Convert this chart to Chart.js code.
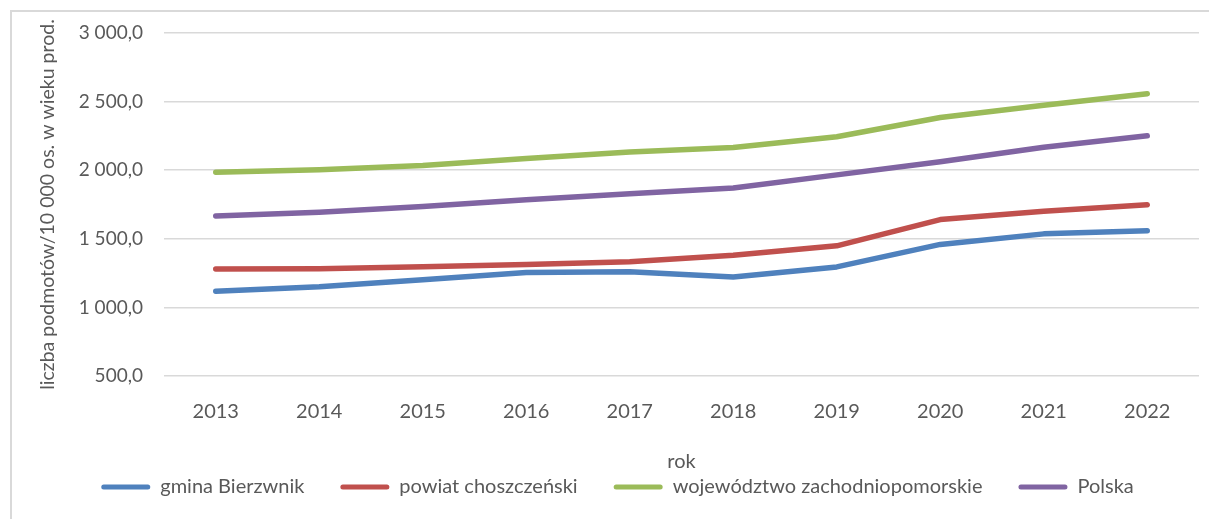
<!DOCTYPE html>
<html>
<head>
<meta charset="utf-8">
<script src="https://cdn.jsdelivr.net/npm/chart.js@4"></script>
<style>
  html, body { margin: 0; padding: 0; background: #ffffff; overflow: hidden; }
  #frame { position: absolute; left: 10px; top: 10px; width: 1400px; height: 700px; border: 2px solid #d9d9d9; box-sizing: border-box; }
  #wrap { position: absolute; left: 0; top: 0; width: 1209px; height: 519px; }
</style>
</head>
<body>
<div id="frame"></div>
<div id="wrap"><canvas id="c" width="1209" height="519"></canvas></div>
<script>
const years = ['2013', '2014', '2015', '2016', '2017', '2018', '2019', '2020', '2021', '2022'];
const seriesNames = ['gmina Bierzwnik', 'powiat choszczeński', 'województwo zachodniopomorskie', 'Polska'];
const gmina = [1118, 1150, 1202, 1255, 1260, 1222, 1295, 1459, 1536, 1558];
const powiat = [1280, 1282, 1296, 1312, 1333, 1380, 1449, 1640, 1700, 1749];
const wojewodztwo = [1985, 2003, 2035, 2085, 2132, 2165, 2244, 2384, 2473, 2558];
const polska = [1667, 1693, 1735, 1785, 1828, 1870, 1966, 2062, 2167, 2251];
const seriesColors = ['#4F81BD', '#C0504D', '#9BBB59', '#8064A2'];
const yTitle = 'liczba podmotów/10 000 os. w wieku prod.';
const xTitle = 'rok';

function fmt(v) {
  const s = v.toFixed(1).replace('.', ',');
  const parts = s.split(',');
  const intPart = parts[0].replace(/\B(?=(\d{3})+(?!\d))/g, ' ');
  return intPart + ',' + parts[1];
}

const allSeries = [gmina, powiat, wojewodztwo, polska];
const datasets = allSeries.map((d, i) => ({
  label: seriesNames[i],
  data: d,
  borderColor: seriesColors[i],
  backgroundColor: seriesColors[i],
  borderWidth: 5.5,
  borderCapStyle: 'round',
  borderJoinStyle: 'round',
  pointRadius: 0,
  pointHoverRadius: 0,
  tension: 0,
  fill: false
}));

const txt = '#595959';
const fam = 'Lato, "Open Sans", sans-serif';

new Chart(document.getElementById('c'), {
  type: 'line',
  data: { labels: years, datasets: datasets },
  options: {
    responsive: false,
    animation: false,
    devicePixelRatio: 1,
    layout: { padding: { left: 36, right: 10, top: 33, bottom: 12 } },
    plugins: {
      tooltip: { enabled: false },
      legend: {
        position: 'bottom',
        labels: {
          color: txt,
          font: { family: fam, size: 20 },
          boxWidth: 49,
          boxHeight: 5,
          padding: 36,
          useBorderRadius: true,
          borderRadius: 2.5,
          generateLabels: (chart) => chart.data.datasets.map((ds, i) => ({
            text: ds.label,
            fillStyle: ds.borderColor,
            strokeStyle: ds.borderColor,
            lineWidth: 0,
            borderRadius: 2.5,
            datasetIndex: i,
            hidden: false,
            fontColor: txt
          }))
        }
      }
    },
    scales: {
      x: {
        offset: true,
        grid: { display: false, drawTicks: false },
        border: { display: false },
        ticks: { color: txt, font: { family: fam, size: 20 }, padding: 24, maxRotation: 0 },
        title: { display: true, text: xTitle, color: txt, font: { family: fam, size: 20 }, padding: { top: 0, bottom: -33 } },
        afterFit: (s) => { s.height = 65; }
      },
      y: {
        min: 500,
        max: 3000,
        grid: { color: '#d9d9d9', lineWidth: 1.5, drawTicks: false },
        border: { display: false },
        ticks: { stepSize: 500, color: txt, font: { family: fam, size: 19 }, padding: 21, callback: (v) => fmt(v) },
        title: { display: true, text: yTitle, color: txt, font: { family: fam, size: 19.5 }, padding: { top: 0, bottom: 0 } },
        afterFit: (s) => { s.width = 128; }
      }
    }
  }
});
</script>
</body>
</html>
